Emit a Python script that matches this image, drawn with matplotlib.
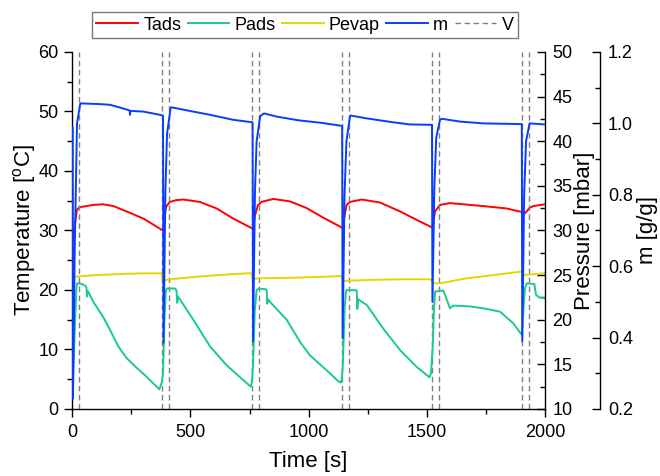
import matplotlib
matplotlib.use("Agg")
import matplotlib.pyplot as plt
from matplotlib.ticker import MultipleLocator

plt.rcParams['font.family'] = ['Liberation Sans', 'DejaVu Sans']
plt.rcParams['mathtext.fontset'] = 'custom'
plt.rcParams['mathtext.rm'] = 'Liberation Sans'

# Adsorber temperature [°C]
tads_t = [0, 3, 10, 20, 30, 60, 89, 131, 174, 230, 301, 375, 383, 390, 397, 413, 440, 470,
          540, 611, 681, 759, 764, 773, 785, 800, 851, 920, 990, 1060, 1140, 1144, 1152,
          1161, 1175, 1225, 1302, 1387, 1471, 1518, 1524, 1535, 1556, 1598, 1739, 1838,
          1902, 1916, 1935, 1951, 2000]
tads = [28.3, 28.5, 30.8, 33.5, 33.9, 34.1, 34.3, 34.4, 34.1, 33.2, 32.0, 30.2, 30.0, 32.0,
        34.0, 34.8, 35.1, 35.2, 34.8, 33.7, 32.0, 30.4, 30.2, 32.5, 34.2, 34.8, 35.3, 34.9,
        33.8, 32.2, 30.5, 30.3, 32.5, 34.3, 34.8, 35.2, 34.7, 33.2, 31.5, 30.6, 30.4, 33.2,
        34.3, 34.6, 34.1, 33.7, 33.1, 32.9, 33.8, 34.1, 34.4]

# Adsorber pressure [mbar]
pads_t = [0, 4, 12, 18, 22, 40, 55, 60, 62, 65, 70, 89, 131, 160, 195, 230, 273, 315, 368,
          374, 378,
          384, 390, 396, 400, 435, 441, 444, 447, 455, 512, 583, 653, 738, 755, 760,
          765, 772, 780, 787, 820, 823, 825, 828, 840, 907, 964, 1006, 1048, 1090, 1126,
          1136, 1140,
          1145, 1152, 1158, 1161, 1203, 1205, 1206, 1209, 1220, 1246, 1316, 1387, 1458,
          1500, 1511, 1518,
          1525, 1530, 1535, 1570, 1584, 1598, 1612, 1680, 1739, 1810, 1866, 1902,
          1906, 1915, 1923, 1955, 1962, 1975, 2000]
pads = [12.5, 14.0, 20.0, 23.8, 24.1, 24.0, 23.8, 23.6, 22.6, 23.2, 23.0, 22.0, 20.3, 18.85,
        17.0, 15.7, 14.6, 13.6, 12.2, 12.6, 12.9,
        14.0, 20.0, 23.3, 23.5, 23.5, 23.3, 21.9, 22.6, 22.3, 20.0, 17.0, 14.9, 12.9, 12.5,
        13.0,
        15.0, 21.0, 23.3, 23.5, 23.4, 23.2, 21.8, 22.3, 21.9, 20.0, 17.5, 16.0, 15.0, 14.0,
        13.1, 12.95, 13.3,
        15.0, 21.0, 23.2, 23.33, 23.3, 22.5, 21.2, 22.3, 22.1, 21.65, 19.0, 16.6, 14.7,
        13.8, 13.55, 14.0,
        17.0, 21.0, 23.15, 23.27, 22.3, 21.28, 21.58, 21.5, 21.28, 20.9, 19.6, 18.3,
        20.0, 23.5, 24.08, 24.0, 22.8, 22.5, 22.4]

# Evaporator pressure [mbar]
pevap_t = [0, 13, 100, 210, 300, 378, 383, 413, 500, 583, 738, 758, 764, 794, 935, 1050,
           1138, 1146, 1246, 1387, 1518, 1526, 1560, 1669, 1810, 1895, 1902, 1908, 1950,
           2000]
pevap = [24.8, 24.82, 25.0, 25.13, 25.2, 25.2, 24.4, 24.53, 24.75, 24.94, 25.2, 25.2, 24.6,
         24.64, 24.71, 24.8, 24.9, 24.35, 24.45, 24.53, 24.53, 24.08, 24.1, 24.64, 25.09,
         25.38, 25.4, 25.0, 25.1, 25.2]

# Water uptake [g/g]
m_t = [0, 2, 3, 10, 20, 34, 117, 160, 230, 243, 244, 246, 301, 371, 383,
       384, 386, 394, 401, 416, 420, 512, 583, 681, 762,
       763, 765, 773, 780, 795, 811, 865, 935, 964, 1048, 1142,
       1144, 1152, 1160, 1175, 1178, 1246, 1358, 1429, 1522,
       1524, 1532, 1540, 1556, 1563, 1641, 1739, 1902,
       1904, 1912, 1920, 1935, 2000]
m = [0.99, 0.99, 0.23, 0.63, 1.0, 1.056, 1.054, 1.052, 1.039, 1.036, 1.024, 1.035, 1.033,
     1.024, 1.022,
     1.02, 0.385, 0.81, 0.97, 1.043, 1.045, 1.033, 1.024, 1.01, 1.003,
     1.0, 0.389, 0.81, 0.95, 1.02, 1.028, 1.019, 1.011, 1.008, 1.002, 0.993,
     0.398, 0.80, 0.95, 1.02, 1.022, 1.014, 1.003, 0.997, 0.996,
     0.50, 0.82, 0.96, 1.01, 1.013, 1.005, 1.0, 0.998,
     0.39, 0.80, 0.95, 1.0, 0.997]

# Valve switching times [s]
valve_t = [30, 380, 410, 760, 790, 1140, 1171, 1521, 1552, 1902, 1933]

fig = plt.figure(figsize=(6.6, 4.76), dpi=100)
ax = fig.add_axes([0.1095, 0.1408, 0.7162, 0.75])
ax2 = ax.twinx()
ax3 = ax.twinx()
ax3.spines['right'].set_position(('axes', 1.117))

for a in (ax, ax2, ax3):
    a.spines['top'].set_visible(False)
    for s in a.spines.values():
        s.set_linewidth(1.0)
ax.spines['right'].set_visible(False)
for a in (ax2, ax3):
    a.spines['left'].set_visible(False)
    a.spines['bottom'].set_visible(False)

lw = 1.4
h_tads, = ax.plot(tads_t, tads, color='#ff0000', lw=lw, label='Tads')
h_v = ax.vlines(valve_t, 0, 60, colors='#808080', linestyles=(0, (4, 2.5)), lw=1.0,
                label='V')
h_pads, = ax2.plot(pads_t, pads, color='#17cc8a', lw=lw, label='Pads')
h_pevap, = ax2.plot(pevap_t, pevap, color='#e6d600', lw=lw, label='Pevap')
h_m, = ax3.plot(m_t, m, color='#0a3cff', lw=lw, label='m')

ax.set_xlim(0, 2000)
ax.set_ylim(0, 60)
ax2.set_ylim(10, 50)
ax3.set_ylim(0.2, 1.2)

ax.xaxis.set_major_locator(MultipleLocator(500))
ax.xaxis.set_minor_locator(MultipleLocator(250))
ax.yaxis.set_major_locator(MultipleLocator(10))
ax.yaxis.set_minor_locator(MultipleLocator(5))
ax2.yaxis.set_major_locator(MultipleLocator(5))
ax2.yaxis.set_minor_locator(MultipleLocator(2.5))
ax3.yaxis.set_major_locator(MultipleLocator(0.2))
ax3.yaxis.set_minor_locator(MultipleLocator(0.1))
ax3.yaxis.set_major_formatter(plt.FormatStrFormatter('%.1f'))

ax.tick_params(axis='both', which='major', direction='out', length=6, width=1,
               labelsize=13, pad=4)
ax.tick_params(axis='both', which='minor', direction='out', length=3.5, width=1)
ax.tick_params(axis='x', which='major', pad=5)
for a in (ax2, ax3):
    a.tick_params(axis='y', which='major', direction='in', length=6, width=1,
                  labelsize=13, pad=5.5)
    a.tick_params(axis='y', which='minor', direction='in', length=3.5, width=1)

ax.set_xlabel('Time [s]', fontsize=16, labelpad=7)
ax.set_ylabel('Temperature [$\\mathregular{^{o}}$C]', fontsize=16, labelpad=0)
ax2.set_ylabel('Pressure [mbar]', fontsize=16, labelpad=1)
ax3.set_ylabel('m [g/g]', fontsize=16, labelpad=3)

fig.legend([h_tads, h_pads, h_pevap, h_m, h_v], ['Tads', 'Pads', 'Pevap', 'm', 'V'],
           loc='center', bbox_to_anchor=(0.462, 0.947), ncol=5, frameon=True,
           fancybox=False, edgecolor='#555555', fontsize=13, handlelength=2.3,
           handletextpad=0.3, columnspacing=0.35, borderpad=0.25, borderaxespad=0)
fig.legends[0].get_frame().set_linewidth(1.0)

fig.savefig('out.png', dpi=100)
